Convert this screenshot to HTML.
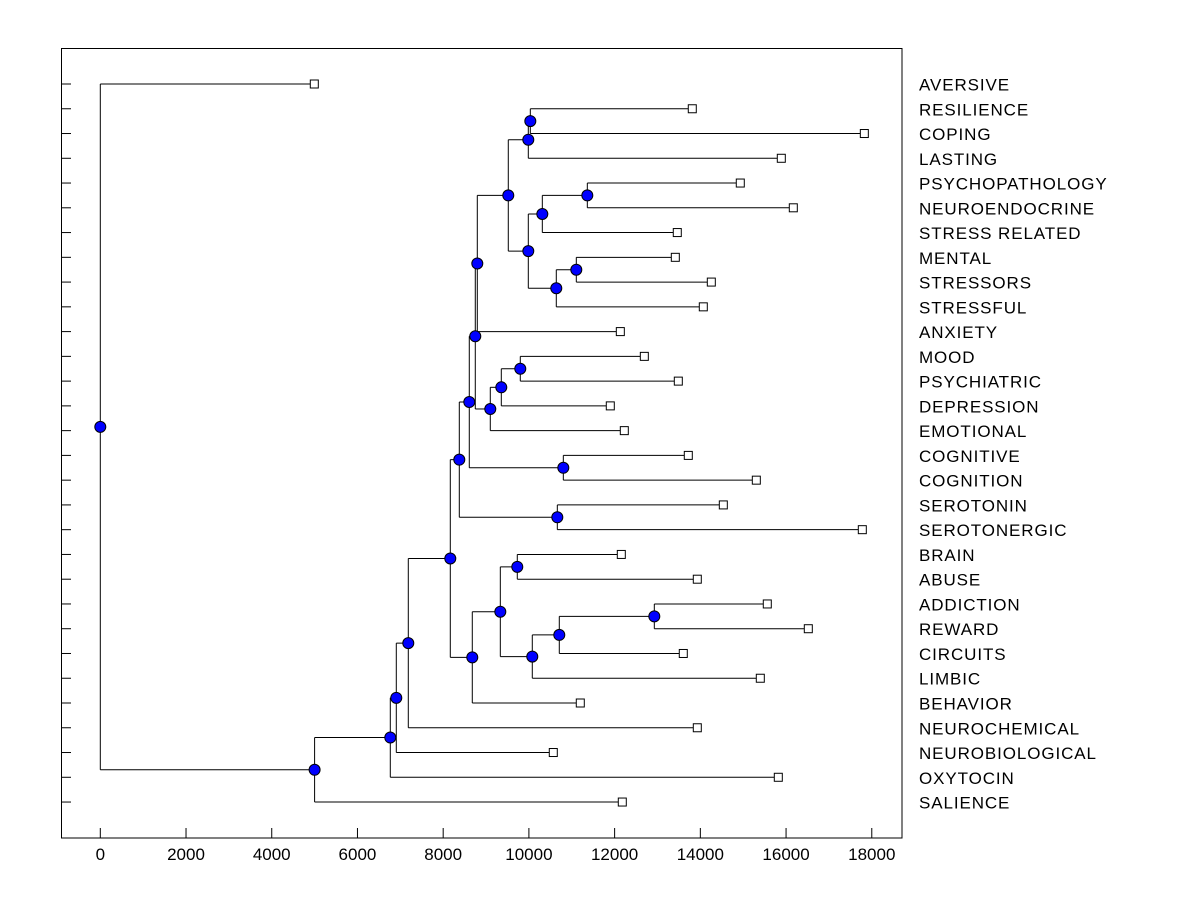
<!DOCTYPE html>
<html><head><meta charset="utf-8"><title>Dendrogram</title>
<style>body{margin:0;background:#fff}svg{display:block}text{font-family:"Liberation Sans",Arial,sans-serif}</style>
</head><body>
<svg id="chart" width="1200" height="900" viewBox="0 0 1200 900" xmlns="http://www.w3.org/2000/svg">
<rect x="0" y="0" width="1200" height="900" fill="#fff"/>
<rect x="61.5" y="48.5" width="840.5" height="789.5" fill="none" stroke="#000" stroke-width="1"/>
<g id="axes"></g><g id="links"></g><g id="marks"></g><g id="labels"></g>
</svg>
<script>
const leafNames = ["AVERSIVE","RESILIENCE","COPING","LASTING","PSYCHOPATHOLOGY","NEUROENDOCRINE","STRESS RELATED","MENTAL","STRESSORS","STRESSFUL","ANXIETY","MOOD","PSYCHIATRIC","DEPRESSION","EMOTIONAL","COGNITIVE","COGNITION","SEROTONIN","SEROTONERGIC","BRAIN","ABUSE","ADDICTION","REWARD","CIRCUITS","LIMBIC","BEHAVIOR","NEUROCHEMICAL","NEUROBIOLOGICAL","OXYTOCIN","SALIENCE"];
const leafValues = [4993,13812,17826,15889,14932,16169,13462,13416,14256,14069,12133,12693,13486,11899,12226,13719,15306,14536,17779,12156,13929,15562,16519,13602,15399,11199,13929,10569,15819,12179];
const nodeHeights = [10033,9986,11363,10313,11106,10639,9986,9519,8796,9799,9356,9099,8749,10803,8609,10663,8376,9729,12926,10709,10079,9333,8679,8166,7186,6906,6766,5000,0];
const nodeLeft  = [1,"n0",4,"n2",7,"n4","n3","n1","n7",11,"n9","n10","n8",15,"n12",17,"n14",19,21,"n18","n19","n17","n21","n16","n23","n24","n25","n26",0];
const nodeRight = [2,3,5,6,8,9,"n5","n6",10,12,13,14,"n11",16,"n13",18,"n15",20,22,23,24,"n20",25,"n22",26,27,28,29,"n27"];
const xTicks = [0,2000,4000,6000,8000,10000,12000,14000,16000,18000];

const NS="http://www.w3.org/2000/svg";
const X0=100.3, K=0.04286;
function xs(v){return X0+v*K;}
function ys(i){return 84+i*24.76;}
function mk(tag,attrs,parent){const e=document.createElementNS(NS,tag);for(const k in attrs)e.setAttribute(k,attrs[k]);document.getElementById(parent).appendChild(e);return e;}

xTicks.forEach(t=>{
  const l=mk('line',{x1:xs(t),x2:xs(t),y1:828,y2:838,stroke:'#000'},'axes');
  
  
  const tx=mk('text',{x:xs(t),y:860,'text-anchor':'middle','font-size':'17'},'axes');
  tx.textContent=t;
  
  
});
leafNames.forEach((n,i)=>{
  const l=mk('line',{x1:61,x2:71,y1:ys(i),y2:ys(i),stroke:'#000'},'axes');
  
  
  const tx=mk('text',{x:919,y:ys(i)+6.5,'font-size':'17','letter-spacing':'0.9'},'labels');
  tx.textContent=n;
  
  
});

const nodeY=[];
function ref(r){ if(typeof r==='string'){const k=+r.slice(1);return {h:nodeHeights[k],y:nodeY[k]};} return {h:leafValues[r],y:ys(r)}; }
nodeHeights.forEach((h,k)=>{
  const a=ref(nodeLeft[k]), b=ref(nodeRight[k]);
  nodeY[k]=(a.y+b.y)/2;
  const x=xs(h);
  const v=mk('line',{x1:x,x2:x,y1:a.y,y2:b.y,stroke:'#000'},'links');
  
  
  [a,b].forEach(c=>{
    const hl=mk('line',{x1:x,x2:xs(c.h),y1:c.y,y2:c.y,stroke:'#000'},'links');
    
    
  });
});
nodeHeights.forEach((h,k)=>{
  const c=mk('circle',{cx:xs(h),cy:nodeY[k],r:5.5,fill:'#0000ff',stroke:'#000','stroke-width':1},'marks');
  
  
});
leafValues.forEach((v,i)=>{
  const r=mk('rect',{x:xs(v)-4,y:ys(i)-4,width:8,height:8,fill:'#fff',stroke:'#000','stroke-width':1},'marks');
  
  
});
</script>
</body></html>
